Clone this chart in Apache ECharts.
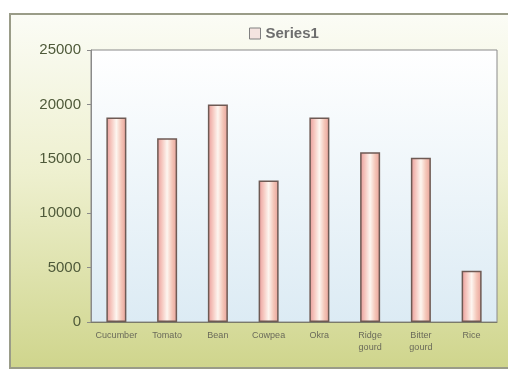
<!DOCTYPE html>
<html>
<head>
<meta charset="utf-8">
<script src="https://cdn.jsdelivr.net/npm/echarts@6/dist/echarts.min.js"></script>
<style>
  html, body { margin: 0; padding: 0; background: #ffffff; }
  #chart { width: 508px; height: 378px; }
</style>
</head>
<body>
<div id="chart"></div>
<script>
const categories = ['Cucumber', 'Tomato', 'Bean', 'Cowpea', 'Okra', 'Ridge\ngourd', 'Bitter\ngourd', 'Rice']
const series1 = [18800, 16900, 20000, 13000, 18800, 15600, 15100, 4700]
const yTicks = [0, 5000, 10000, 15000, 20000, 25000]

const myChart = echarts.init(document.getElementById('chart'))
const option = {
  backgroundColor: '#ffffff',
  graphic: [
    {
      type: 'rect',
      z: -10,
      shape: { x: 10, y: 14, width: 520, height: 354 },
      style: {
        fill: new echarts.graphic.LinearGradient(0, 0, 0, 1, [
          { offset: 0, color: '#fbfcf6' },
          { offset: 0.45, color: '#eef0cf' },
          { offset: 1, color: '#cfd58c' }
        ]),
        stroke: '#9a9c88',
        lineWidth: 2
      }
    }
  ],
  legend: {
    top: 21,
    left: 244,
    itemWidth: 11,
    itemHeight: 11,
    itemGap: 4,
    icon: 'rect',
    textStyle: { fontFamily: 'Liberation Sans', fontWeight: 'bold', fontSize: 15, color: '#6e6e6e' },
    data: [{ name: 'Series1', itemStyle: { color: '#f4e4e0', borderColor: '#808080', borderWidth: 1 } }]
  },
  grid: {
    left: 91,
    right: 11,
    top: 50,
    bottom: 56,
    show: true,
    borderColor: '#8a8a8a',
    borderWidth: 1,
    backgroundColor: new echarts.graphic.LinearGradient(0, 0, 0, 1, [
      { offset: 0, color: '#ffffff' },
      { offset: 1, color: '#dcebf4' }
    ])
  },
  xAxis: {
    type: 'category',
    data: categories,
    axisLine: { lineStyle: { color: '#7a7a6a' } },
    axisTick: { show: false },
    axisLabel: {
      interval: 0,
      fontFamily: 'Liberation Sans',
      fontSize: 9,
      color: '#6a6a5a',
      lineHeight: 12,
      margin: 8
    }
  },
  yAxis: {
    type: 'value',
    min: yTicks[0],
    max: yTicks[yTicks.length - 1],
    interval: 5000,
    splitLine: { show: false },
    axisLine: { show: true, lineStyle: { color: '#8a8a8a' } },
    axisTick: { show: true, length: 4, lineStyle: { color: '#8a8a8a' } },
    axisLabel: {
      formatter: v => String(v),
      fontFamily: 'Liberation Sans',
      fontSize: 15,
      color: '#4f5a3a',
      margin: 10
    }
  },
  series: [
    {
      name: 'Series1',
      type: 'bar',
      data: series1,
      barWidth: 20,
      itemStyle: {
        color: new echarts.graphic.LinearGradient(0, 0, 1, 0, [
          { offset: 0, color: '#e89a98' },
          { offset: 0.25, color: '#f6c8c0' },
          { offset: 0.5, color: '#fdf6f0' },
          { offset: 0.75, color: '#f4c6b8' },
          { offset: 1, color: '#e8a098' }
        ]),
        borderColor: '#6e5a54',
        borderWidth: 1.5
      }
    }
  ]
}
myChart.setOption(option)
</script>
</body>
</html>
